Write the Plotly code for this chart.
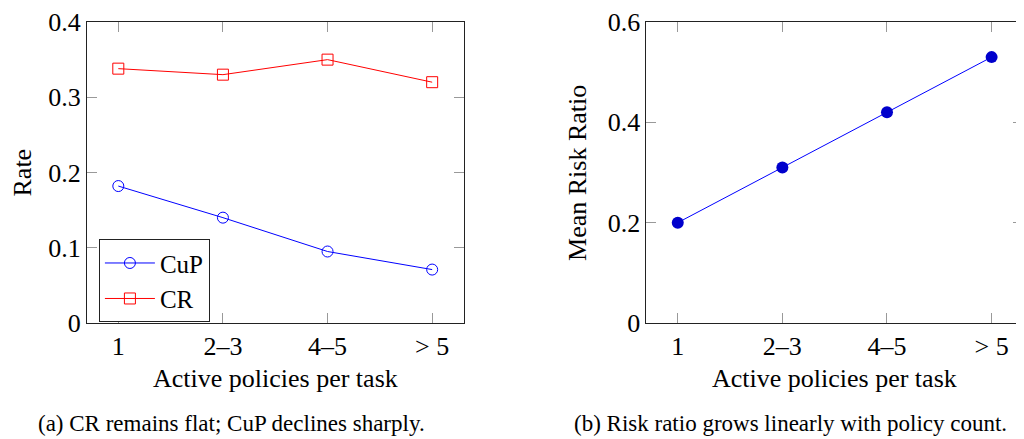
import plotly.graph_objects as go
from plotly.subplots import make_subplots

categories = ["1", "2–3", "4–5", "> 5"]
cup_rate = [0.182, 0.140, 0.095, 0.071]
cr_rate = [0.338, 0.330, 0.350, 0.320]
risk_ratio = [0.20, 0.31, 0.42, 0.53]

FONT = "Liberation Serif"
OFF = 8  # default page body margin
W, H = 1024 - OFF, 439 - OFF
TOP, BOT = 14 - OFF, 323 - OFF
PH = BOT - TOP


def px(x):
    return (x - OFF) / W


def py(y):
    return (BOT - (y - OFF)) / PH


fig = make_subplots(rows=1, cols=2)

fig.add_trace(go.Scatter(x=categories, y=cup_rate, mode="lines+markers", name="CuP",
                         line=dict(color="#0000FF", width=1),
                         marker=dict(symbol="circle-open", size=11, color="#0000FF", line=dict(width=1))),
              row=1, col=1)
fig.add_trace(go.Scatter(x=categories, y=cr_rate, mode="lines+markers", name="CR",
                         line=dict(color="#FF0000", width=1),
                         marker=dict(symbol="square-open", size=11, color="#FF0000", line=dict(width=1))),
              row=1, col=1)
fig.add_trace(go.Scatter(x=categories, y=risk_ratio, mode="lines+markers", name="Risk",
                         line=dict(color="#0000FF", width=1), showlegend=False,
                         marker=dict(symbol="circle", size=12, color="#0000CC", line=dict(width=0))),
              row=1, col=2)

axis_common = dict(showline=True, linecolor="#222222", linewidth=1, mirror="allticks",
                   ticks="inside", ticklen=10, tickcolor="#999999", tickwidth=1,
                   showgrid=False, zeroline=False, ticklabeloverflow="allow",
                   tickfont=dict(family=FONT, size=26, color="black"))

fig.update_xaxes(**axis_common, type="category", range=[-0.3, 3.3])
fig.update_xaxes(domain=[px(87), px(464)], row=1, col=1)
fig.update_xaxes(domain=[px(647), 1.0], row=1, col=2)

fig.update_yaxes(**axis_common)
fig.update_yaxes(range=[0, 0.4], tickvals=[0, 0.1, 0.2, 0.3, 0.4], ticktext=["0", "0.1", "0.2", "0.3", "0.4"],
                 row=1, col=1)
fig.update_yaxes(range=[0, 0.6], tickvals=[0, 0.2, 0.4, 0.6], ticktext=["0", "0.2", "0.4", "0.6"],
                 row=1, col=2)

title_font = dict(family=FONT, size=26, color="black")
fig.add_annotation(text="Rate", xref="paper", yref="paper", x=px(23), y=py(168.5), textangle=-90,
                   xanchor="center", yanchor="middle", showarrow=False, font=title_font)
fig.add_annotation(text="Mean Risk Ratio", xref="paper", yref="paper", x=px(578), y=py(168.5), textangle=-90,
                   xanchor="center", yanchor="middle", showarrow=False, font=title_font)
fig.add_annotation(text="Active policies per task", xref="paper", yref="paper", x=px(275.5), y=py(380),
                   xanchor="center", yanchor="middle", showarrow=False, font=title_font)
fig.add_annotation(text="Active policies per task", xref="paper", yref="paper", x=px(835.5), y=py(380),
                   xanchor="center", yanchor="middle", showarrow=False, font=title_font)

cap_font = dict(family=FONT, size=23, color="black")
fig.add_annotation(text="(a) CR remains flat; CuP declines sharply.", xref="paper", yref="paper",
                   x=px(231.5), y=py(426), xanchor="center", yanchor="middle",
                   showarrow=False, font=cap_font)
fig.add_annotation(text="(b) Risk ratio grows linearly with policy count.", xref="paper", yref="paper",
                   x=px(791), y=py(426), xanchor="center", yanchor="middle",
                   showarrow=False, font=cap_font)

fig.update_layout(
    width=W, height=H,
    margin=dict(l=0, r=0, t=TOP, b=H - BOT),
    plot_bgcolor="white", paper_bgcolor="white",
    font=dict(family=FONT, color="black"),
    legend=dict(x=px(99), y=py(237), xanchor="left", yanchor="top",
                bgcolor="white", bordercolor="#222222", borderwidth=1,
                font=dict(family=FONT, size=25, color="black"),
                itemwidth=50, tracegroupgap=0),
)

fig.write_html("out.html")
